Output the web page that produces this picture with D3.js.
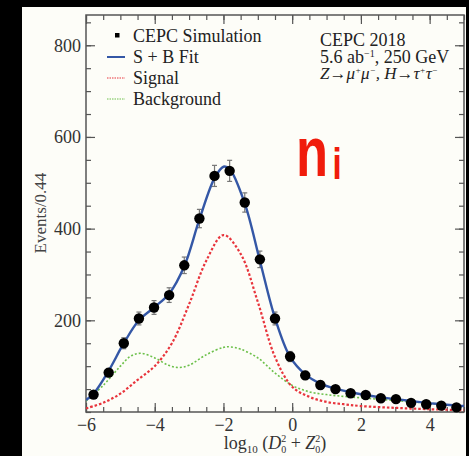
<!DOCTYPE html>
<html><head><meta charset="utf-8">
<script src="https://cdn.jsdelivr.net/npm/d3@7"></script>
<style>html,body{margin:0;padding:0;background:#000;}svg{display:block;}</style>
</head><body>
<svg id="c" width="469" height="456"></svg>
<script>
// ---- data ----
const binCenters = [-5.78,-5.34,-4.90,-4.46,-4.02,-3.58,-3.14,-2.70,-2.26,-1.82,-1.38,-0.94,-0.50,-0.06,0.38,0.82,1.26,1.70,2.14,2.58,3.02,3.46,3.90,4.34,4.78];
const events = [38,86,150,204,228,255,320,422,515,526,457,333,204,121,80,59,50,41,37,30,28,20,17,14,10];
const errors = [6,9,12,14,15,16,18,20,23,23,21,18,14,11,9,8,7,6,6,5,5,5,4,4,3];

const fitX = [-6,-5.78,-5.34,-4.9,-4.46,-4.02,-3.58,-3.14,-2.7,-2.26,-2.0,-1.82,-1.38,-0.94,-0.5,-0.06,0.38,0.82,1.26,1.7,2.14,2.58,3.02,3.46,3.9,4.34,4.78,5];
const fitY = [26,40,90,150,200,228,258,318,420,510,535,530,455,330,205,120,82,62,51,43,37,32,28,24,20,17,14,13];

const sigX = [-6,-5.5,-5,-4.5,-4,-3.5,-3,-2.5,-2,-1.5,-1,-0.5,0,0.5,1,1.5,2,3,4,5];
const sigY = [8,20,40,70,100,150,235,330,386,345,240,120,55,33,22,17,13,9,6,4];

const bkgX = [-6,-5.5,-5,-4.7,-4.4,-4,-3.6,-3.3,-3,-2.5,-2,-1.8,-1.5,-1,-0.5,0,0.5,1,1.5,2,3,4,5];
const bkgY = [24,58,100,122,128,118,102,97,102,125,141,142,137,118,85,58,44,38,34,31,25,19,13];

const xTicks = [-6,-4,-2,0,2,4];
const yTicks = [200,400,600,800];
const legendLabels = ["CEPC Simulation","S + B Fit","Signal","Background"];

// ---- layout ----
const svg = d3.select("#c");
const L = 86, R = 464, T = 15, B = 412;
const x = d3.scaleLinear().domain([-6,5]).range([L,R]);
const y = d3.scaleLinear().domain([0,866]).range([B,T]);

svg.append("rect").attr("x",22).attr("y",7).attr("width",444).attr("height",449).attr("fill","#fdfdf8");

const axisColor = "#555";
function axisG(gen, tx, ty){
  const g = svg.append("g").attr("transform",`translate(${tx},${ty})`).call(gen);
  g.select(".domain").remove();
  g.selectAll("line").attr("stroke",axisColor).attr("stroke-width",1.2);
  g.selectAll("text").attr("font-family","'Liberation Serif','Times New Roman',serif").attr("font-size",18).attr("fill","#333");
  return g;
}
const xMinor = d3.range(-6,5.01,0.5);
const yMinor = d3.range(0,866,50);
axisG(d3.axisBottom(x).tickValues(xMinor).tickFormat("").tickSizeInner(-5).tickSizeOuter(0),0,B);
axisG(d3.axisBottom(x).tickValues(xTicks).tickFormat(d=>d<0?"\u2212"+(-d):d).tickSizeInner(-9).tickSizeOuter(0).tickPadding(6),0,B);
axisG(d3.axisTop(x).tickValues(xMinor).tickFormat("").tickSizeInner(-5).tickSizeOuter(0),0,T);
axisG(d3.axisTop(x).tickValues(xTicks).tickFormat("").tickSizeInner(-9).tickSizeOuter(0),0,T);
axisG(d3.axisLeft(y).tickValues(yMinor).tickFormat("").tickSizeInner(-5).tickSizeOuter(0),L,0);
axisG(d3.axisLeft(y).tickValues(yTicks).tickFormat(d3.format("d")).tickSizeInner(-9).tickSizeOuter(0).tickPadding(5),L,0);
axisG(d3.axisRight(y).tickValues(yMinor).tickFormat("").tickSizeInner(-5).tickSizeOuter(0),R,0);
axisG(d3.axisRight(y).tickValues(yTicks).tickFormat("").tickSizeInner(-9).tickSizeOuter(0),R,0);

svg.append("rect").attr("x",L).attr("y",T).attr("width",R-L).attr("height",B-T)
  .attr("fill","none").attr("stroke",axisColor).attr("stroke-width",1.5);

// curves
svg.append("clipPath").attr("id","cp").append("rect").attr("x",L).attr("y",T).attr("width",R-L).attr("height",B-T);
const line = d3.line().curve(d3.curveCatmullRom.alpha(0.5));
function drawCurve(xs, ys, color, width, dash){
  svg.append("path").attr("clip-path","url(#cp)")
    .attr("d", line(xs.map((v,i)=>[x(v), y(ys[i])])))
    .attr("fill","none").attr("stroke",color).attr("stroke-width",width)
    .attr("stroke-dasharray",dash||null);
}
drawCurve(bkgX,bkgY,"#6cc04a",1.6,"2,2");
drawCurve(sigX,sigY,"#e8343c",2.2,"2.5,2");

// error bars
const eb = svg.append("g").attr("stroke","#777").attr("stroke-width",1.2);
binCenters.forEach((c,i)=>{
  const cx = x(c), y1 = y(events[i]-errors[i]), y2 = y(events[i]+errors[i]);
  eb.append("line").attr("x1",cx).attr("x2",cx).attr("y1",y1).attr("y2",y2);
  eb.append("line").attr("x1",cx-2.5).attr("x2",cx+2.5).attr("y1",y1).attr("y2",y1);
  eb.append("line").attr("x1",cx-2.5).attr("x2",cx+2.5).attr("y1",y2).attr("y2",y2);
});
drawCurve(fitX,fitY,"#3457a6",2.4);
svg.append("g").selectAll("circle").data(binCenters).join("circle")
  .attr("cx",d=>x(d)).attr("cy",(d,i)=>y(events[i])).attr("r",5.2).attr("fill","#000");

// legend
const serif = "'Liberation Serif','Times New Roman',serif";
const lg = svg.append("g").attr("font-family",serif).attr("font-size",18).attr("fill","#222");
const rowY = [42,63,84,105];
lg.append("rect").attr("x",115).attr("y",rowY[0]-9).attr("width",4.5).attr("height",4.5).attr("fill","#000");
lg.append("line").attr("x1",107).attr("x2",125).attr("y1",rowY[1]-6).attr("y2",rowY[1]-6).attr("stroke","#3457a6").attr("stroke-width",2);
lg.append("line").attr("x1",107).attr("x2",125).attr("y1",rowY[2]-6).attr("y2",rowY[2]-6).attr("stroke","#e8343c").attr("stroke-width",1).attr("stroke-dasharray","1.5,1");
lg.append("line").attr("x1",107).attr("x2",125).attr("y1",rowY[3]-6).attr("y2",rowY[3]-6).attr("stroke","#6cc04a").attr("stroke-width",1).attr("stroke-dasharray","1.5,1");
legendLabels.forEach((t,i)=>lg.append("text").attr("x",133).attr("y",rowY[i]).text(t));

// info text
const info = svg.append("g").attr("font-family",serif).attr("font-size",18).attr("fill","#222");
info.append("text").attr("x",320).attr("y",46).text("CEPC 2018");
const t2 = info.append("text").attr("x",320).attr("y",63);
t2.append("tspan").text("5.6 ab");
t2.append("tspan").attr("font-size",10).attr("dy",-6).text("\u22121");
t2.append("tspan").attr("dy",6).text(", 250 GeV");
const t3 = info.append("text").attr("x",320).attr("y",79).attr("font-style","italic").attr("font-size",17);
t3.append("tspan").text("Z\u2192\u03bc");
t3.append("tspan").attr("font-size",9).attr("dy",-6).text("+");
t3.append("tspan").attr("dy",6).text("\u03bc");
t3.append("tspan").attr("font-size",9).attr("dy",-6).text("\u2212");
t3.append("tspan").attr("dy",6).text(", H\u2192\u03c4");
t3.append("tspan").attr("font-size",9).attr("dy",-6).text("+");
t3.append("tspan").attr("dy",6).text("\u03c4");
t3.append("tspan").attr("font-size",9).attr("dy",-6).text("\u2212");

// axis titles
svg.append("text").attr("transform","translate(46,213) rotate(-90)").attr("text-anchor","middle")
  .attr("font-family",serif).attr("font-size",17).attr("fill","#444").text("Events/0.44");
const xl = svg.append("text").attr("x",275).attr("y",449).attr("text-anchor","middle")
  .attr("font-family",serif).attr("font-size",18).attr("fill","#333");
xl.append("tspan").text("log");
xl.append("tspan").attr("font-size",11).attr("dy",4).text("10");
xl.append("tspan").attr("dy",-4).text(" (");
xl.append("tspan").attr("font-style","italic").text("D");
xl.append("tspan").attr("font-size",10).attr("dy",-7).text("2");
xl.append("tspan").attr("font-size",10).attr("dx",-5).attr("dy",11).text("0");
xl.append("tspan").attr("dy",-4).text(" + ");
xl.append("tspan").attr("font-style","italic").text("Z");
xl.append("tspan").attr("font-size",10).attr("dy",-7).text("2");
xl.append("tspan").attr("font-size",10).attr("dx",-5).attr("dy",11).text("0");
xl.append("tspan").attr("dy",-4).text(")");

// annotation
const ann = svg.append("text").attr("transform","translate(296,176) scale(0.75,1)")
  .attr("font-family","'Liberation Sans',Arial,sans-serif").attr("font-weight","bold").attr("font-size",70).attr("fill","#f01c0c");
ann.append("tspan").text("n");
ann.append("tspan").attr("font-size",44).attr("dx",6).attr("dy",3).text("i");
</script>
</body></html>
